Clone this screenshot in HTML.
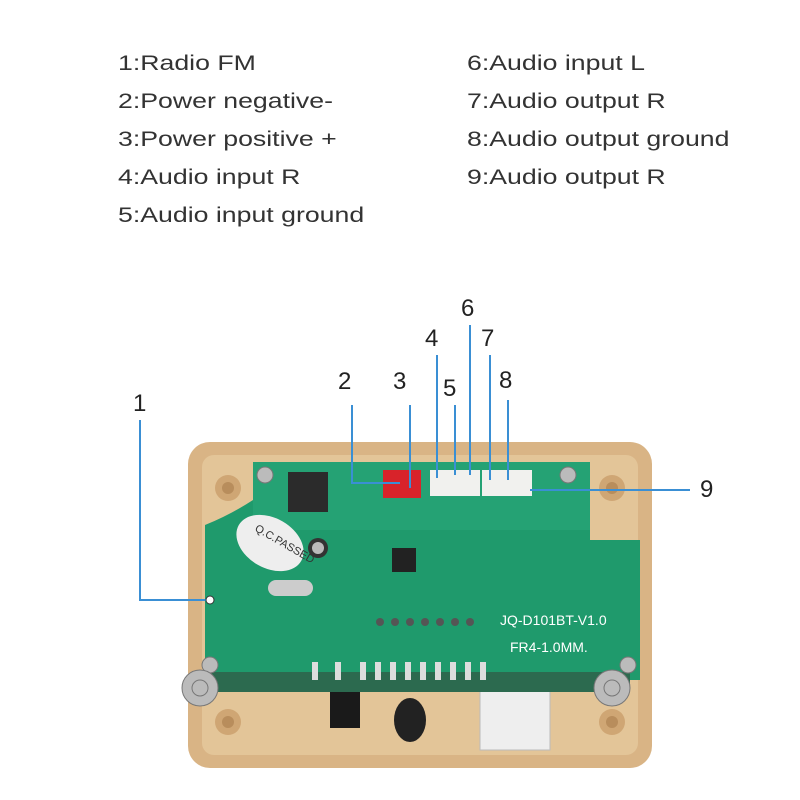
<!DOCTYPE html>
<html><head><style>
body{margin:0;width:800px;height:800px;background:#fff;position:relative;overflow:hidden;font-family:"Liberation Sans",sans-serif}
.t{position:absolute;font-size:21px;color:#333;white-space:nowrap;transform:scaleX(1.27);transform-origin:0 0}
.n{position:absolute;font-size:24px;color:#222}
</style></head><body>
<div class="t" style="left:118px;top:52px">1:Radio FM</div>
<div class="t" style="left:118px;top:90px">2:Power negative-</div>
<div class="t" style="left:118px;top:128px">3:Power positive +</div>
<div class="t" style="left:118px;top:166px">4:Audio input R</div>
<div class="t" style="left:118px;top:204px">5:Audio input ground</div>
<div class="t" style="left:467px;top:52px">6:Audio input L</div>
<div class="t" style="left:467px;top:90px">7:Audio output R</div>
<div class="t" style="left:467px;top:128px">8:Audio output ground</div>
<div class="t" style="left:467px;top:166px">9:Audio output R</div>

<svg width="800" height="800" style="position:absolute;left:0;top:0">
<rect x="188" y="442" width="464" height="326" rx="22" fill="#d9b485"/>
<rect x="202" y="455" width="436" height="300" rx="12" fill="#e3c598"/>
<circle cx="228" cy="488" r="13" fill="#cfa674"/><circle cx="228" cy="488" r="6" fill="#b88d5c"/>
<circle cx="612" cy="488" r="13" fill="#cfa674"/><circle cx="612" cy="488" r="6" fill="#b88d5c"/>
<circle cx="228" cy="722" r="13" fill="#cfa674"/><circle cx="228" cy="722" r="6" fill="#b88d5c"/>
<circle cx="612" cy="722" r="13" fill="#cfa674"/><circle cx="612" cy="722" r="6" fill="#b88d5c"/>
<rect x="330" y="690" width="30" height="38" fill="#1a1a1a"/>
<ellipse cx="410" cy="720" rx="16" ry="22" fill="#222"/>
<rect x="480" y="690" width="70" height="60" fill="#eee" stroke="#bbb"/>
<rect x="240" y="660" width="40" height="30" fill="#2a2a2a"/>
<rect x="580" y="660" width="35" height="30" fill="#2a2a2a"/>
<path d="M253 462 H590 V540 H640 V680 H205 V525 Q230 515 253 500 Z" fill="#1f9a6c"/>
<rect x="210" y="672" width="420" height="20" fill="#2c6a4f"/>
<path d="M253 462 H590 V530 H253 Z" fill="#25a274"/>
<rect x="288" y="472" width="40" height="40" fill="#2b2b2b"/>
<rect x="383" y="470" width="38" height="28" fill="#d8232a"/>
<rect x="430" y="470" width="50" height="26" fill="#f1f1ee"/>
<rect x="482" y="470" width="50" height="26" fill="#f1f1ee"/>
<ellipse cx="270" cy="543" rx="36" ry="25" fill="#eee" transform="rotate(30 270 543)"/>
<text x="250" y="540" font-size="11" fill="#333" transform="rotate(30 270 543)">Q.C.PASSED</text>
<circle cx="318" cy="548" r="10" fill="#333"/><circle cx="318" cy="548" r="6" fill="#bbb"/>
<rect x="392" y="548" width="24" height="24" fill="#222"/>
<rect x="268" y="580" width="45" height="16" rx="8" fill="#ccc"/>
<g fill="#555"><circle cx="380" cy="622" r="4"/><circle cx="395" cy="622" r="4"/><circle cx="410" cy="622" r="4"/><circle cx="425" cy="622" r="4"/><circle cx="440" cy="622" r="4"/><circle cx="455" cy="622" r="4"/><circle cx="470" cy="622" r="4"/></g>
<g fill="#ddd"><rect x="312" y="662" width="6" height="18"/><rect x="335" y="662" width="6" height="18"/><rect x="360" y="662" width="6" height="18"/><rect x="375" y="662" width="6" height="18"/><rect x="390" y="662" width="6" height="18"/><rect x="405" y="662" width="6" height="18"/><rect x="420" y="662" width="6" height="18"/><rect x="435" y="662" width="6" height="18"/><rect x="450" y="662" width="6" height="18"/><rect x="465" y="662" width="6" height="18"/><rect x="480" y="662" width="6" height="18"/></g>
<text x="500" y="625" font-size="14" fill="#fff">JQ-D101BT-V1.0</text>
<text x="510" y="652" font-size="14" fill="#fff">FR4-1.0MM.</text>
<g fill="#bbb" stroke="#777"><circle cx="265" cy="475" r="8"/><circle cx="568" cy="475" r="8"/><circle cx="210" cy="665" r="8"/><circle cx="628" cy="665" r="8"/>
<circle cx="200" cy="688" r="18"/><circle cx="612" cy="688" r="18"/><circle cx="200" cy="688" r="8"/><circle cx="612" cy="688" r="8"/></g>
<g stroke="#3a8fd4" stroke-width="2" fill="none">
<polyline points="140,420 140,600 210,600"/>
<polyline points="352,405 352,483 400,483"/>
<line x1="410" y1="405" x2="410" y2="488"/>
<line x1="437" y1="355" x2="437" y2="478"/>
<line x1="455" y1="405" x2="455" y2="475"/>
<line x1="470" y1="325" x2="470" y2="475"/>
<line x1="490" y1="355" x2="490" y2="480"/>
<line x1="508" y1="400" x2="508" y2="480"/>
<line x1="530" y1="490" x2="690" y2="490"/>
</g>
<circle cx="210" cy="600" r="4" fill="#fff" stroke="#333"/>
</svg>
<div class="n" style="left:133px;top:390px">1</div>
<div class="n" style="left:338px;top:368px">2</div>
<div class="n" style="left:393px;top:368px">3</div>
<div class="n" style="left:425px;top:325px">4</div>
<div class="n" style="left:443px;top:375px">5</div>
<div class="n" style="left:461px;top:295px">6</div>
<div class="n" style="left:481px;top:325px">7</div>
<div class="n" style="left:499px;top:367px">8</div>
<div class="n" style="left:700px;top:476px">9</div>
</body></html>
